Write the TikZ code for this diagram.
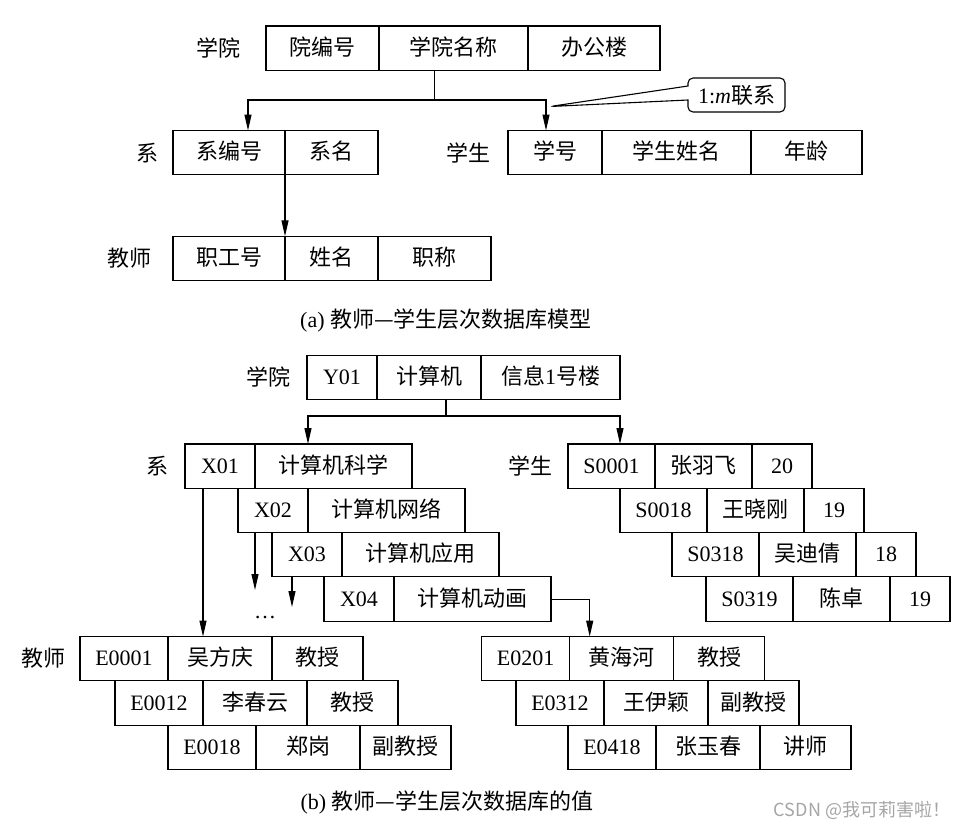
\documentclass[tikz,border=0pt]{standalone}
\usepackage{fontspec}
\setmainfont{Liberation Serif}
\newfontfamily\zhfont{Noto Sans CJK SC}
\newcommand{\zh}[1]{{\zhfont #1}}
\usetikzlibrary{positioning,arrows.meta,shapes.callouts}
\definecolor{wmgray}{RGB}{165,165,165}

\tikzset{
  cell/.style={draw, line width=1.1pt, minimum width=#1, minimum height=44.3pt,
    inner sep=0pt, outer sep=0pt, text height=14pt, text depth=0pt, anchor=north west},
  lbl/.style={inner sep=0pt},
  wire/.style={line width=1.1pt},
  link/.style={line width=1.1pt, -{Triangle[length=16pt,width=7pt]}},
  remark/.style={rectangle callout, draw, fill=white, line width=1.1pt, rounded corners=5pt,
    minimum width=97pt, minimum height=34pt, inner sep=0pt, callout pointer width=14pt},
}

\begin{document}
\begin{tikzpicture}[x=1pt, y=-1pt, font=\fontsize{22}{26}\selectfont]
        \useasboundingbox (0,0) rectangle (968,830);

        % (a) model
        \node[lbl] (la) at (218,48)  {\zh{学院}};
        \node[cell=113pt] (a1) at (266,26) {\zh{院编号}};
        \node[cell=149pt, right=0pt of a1] (a2) {\zh{学院名称}};
        \node[cell=132pt, right=0pt of a2] (a3) {\zh{办公楼}};

        \node[lbl] (lb) at (147,153) {\zh{系}};
        \node[cell=112pt] (b1) at (173,130.5) {\zh{系编号}};
        \node[cell=93pt, right=0pt of b1] (b2) {\zh{系名}};

        \node[lbl] (lc) at (468,153) {\zh{学生}};
        \node[cell=94pt] (c1) at (508,130.5) {\zh{学号}};
        \node[cell=149pt, right=0pt of c1] (c2) {\zh{学生姓名}};
        \node[cell=111pt, right=0pt of c2] (c3) {\zh{年龄}};

        \node[lbl] (ld) at (129,258) {\zh{教师}};
        \node[cell=112pt] (d1) at (173,236.3) {\zh{职工号}};
        \node[cell=93pt, right=0pt of d1] (d2) {\zh{姓名}};
        \node[cell=113pt, right=0pt of d2] (d3) {\zh{职称}};

        \coordinate (fa) at (434.7,100);
        \draw[wire] (fa |- a2.south) -- (fa);
        \draw[link] (fa) -| ([xshift=19pt]b1.north);
        \draw[link] (fa) -| ([xshift=-9pt]c1.north);
        \draw[link] (b1.south east) -- (d1.north east);

        \node[remark, callout absolute pointer={([xshift=-5pt,yshift=24pt]c1.north)}]
          (cm) at (736.5,95) {1:\textit{m}\zh{联系}};

        \node (capa) at (446,320) {(a) \zh{教师—学生层次数据库模型}};

        % (b) values
        \node[lbl] (lp) at (268,377.5) {\zh{学院}};
        \node[cell=70pt] (p1) at (307,355.5) {Y01};
        \node[cell=104pt, right=0pt of p1] (p2) {\zh{计算机}};
        \node[cell=139pt, right=0pt of p2] (p3) {\zh{信息}1\zh{号楼}};

        \node[lbl] (lx) at (157,466) {\zh{系}};
        \node[cell=70pt] (x1) at (185,444) {X01};
        \node[cell=157pt, right=0pt of x1] (x1n) {\zh{计算机科学}};
        \node[cell=70pt] (x2) at (238,488.3) {X02};
        \node[cell=157pt, right=0pt of x2] (x2n) {\zh{计算机网络}};
        \node[cell=70pt] (x3) at (272,532.6) {X03};
        \node[cell=157pt, right=0pt of x3] (x3n) {\zh{计算机应用}};
        \node[cell=70pt] (x4) at (324,576.9) {X04};
        \node[cell=157pt, right=0pt of x4] (x4n) {\zh{计算机动画}};

        \node[lbl] (ls) at (530,466) {\zh{学生}};
        \node[cell=87pt] (s1) at (568,444) {S0001};
        \node[cell=97pt, right=0pt of s1] (s1n) {\zh{张羽飞}};
        \node[cell=60pt, right=0pt of s1n] (s1a) {20};
        \node[cell=87pt] (s2) at (620,488.3) {S0018};
        \node[cell=97pt, right=0pt of s2] (s2n) {\zh{王晓刚}};
        \node[cell=60pt, right=0pt of s2n] (s2a) {19};
        \node[cell=87pt] (s3) at (672,532.6) {S0318};
        \node[cell=97pt, right=0pt of s3] (s3n) {\zh{吴迪倩}};
        \node[cell=60pt, right=0pt of s3n] (s3a) {18};
        \node[cell=87pt] (s4) at (706,576.9) {S0319};
        \node[cell=97pt, right=0pt of s4] (s4n) {\zh{陈卓}};
        \node[cell=60pt, right=0pt of s4n] (s4a) {19};

        \node[lbl] (le) at (43,658) {\zh{教师}};
        \node[cell=88pt] (e1) at (80,636.6) {E0001};
        \node[cell=104pt, right=0pt of e1] (e1n) {\zh{吴方庆}};
        \node[cell=91pt, right=0pt of e1n] (e1t) {\zh{教授}};
        \node[cell=88pt] (e2) at (115,680.9) {E0012};
        \node[cell=104pt, right=0pt of e2] (e2n) {\zh{李春云}};
        \node[cell=91pt, right=0pt of e2n] (e2t) {\zh{教授}};
        \node[cell=88pt] (e3) at (168,725.2) {E0018};
        \node[cell=104pt, right=0pt of e3] (e3n) {\zh{郑岗}};
        \node[cell=91pt, right=0pt of e3n] (e3t) {\zh{副教授}};

        \node[cell=88pt] (f1) at (481.7,636.6) {E0201};
        \node[cell=104pt, right=0pt of f1] (f1n) {\zh{黄海河}};
        \node[cell=91pt, right=0pt of f1n] (f1t) {\zh{教授}};
        \node[cell=88pt] (f2) at (516,680.9) {E0312};
        \node[cell=104pt, right=0pt of f2] (f2n) {\zh{王伊颖}};
        \node[cell=91pt, right=0pt of f2n] (f2t) {\zh{副教授}};
        \node[cell=88pt] (f3) at (568,725.2) {E0418};
        \node[cell=104pt, right=0pt of f3] (f3n) {\zh{张玉春}};
        \node[cell=91pt, right=0pt of f3n] (f3t) {\zh{讲师}};

        \coordinate (fb) at (446,416);
        \draw[wire] (fb |- p2.south) -- (fb);
        \draw[link] (fb) -| ([xshift=-25.5pt]x1n.north);
        \draw[link] (fb) -| ([xshift=8.5pt]s1.north);

        \coordinate (x2e) at (255,590);
        \coordinate (x3e) at (292,607);
        \draw[link] ([xshift=-17pt]x1.south) -- ([xshift=-17pt]x1.south |- e1n.north);
        \draw[link] (x2.south -| x2e) -- (x2e);
        \draw[link] (x3.south -| x3e) -- (x3e);
        \draw[link] (x4n.east) -| ([xshift=-32pt]f1n.north);
        \node[anchor=base] (dots) at (265,618) {\dots};

        \node (capb) at (447,802) {(b) \zh{教师—学生层次数据库的值}};

        \node[text=wmgray, font=\zhfont\fontsize{18}{20}\selectfont] (wm) at (862,810) {CSDN @我可莉害啦！};
      \end{tikzpicture}
\end{document}
